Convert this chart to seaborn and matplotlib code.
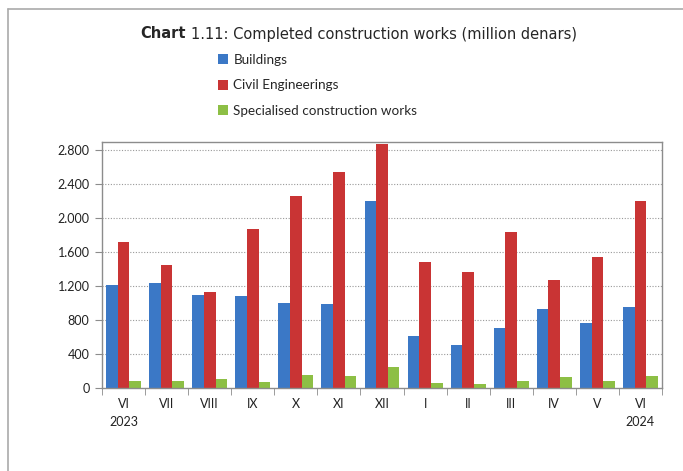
import numpy as np
import pandas as pd
import matplotlib
matplotlib.use("Agg")
import matplotlib.pyplot as plt
from matplotlib.lines import Line2D
from matplotlib.ticker import FuncFormatter, FixedLocator
import seaborn as sns

months = ["VI\n2023", "VII", "VIII", "IX", "X", "XI", "XII", "I", "II", "III", "IV", "V", "VI\n2024"]
series_names = ["Buildings", "Civil Engineerings", "Specialised construction works"]
buildings = [1214, 1241, 1096, 1081, 999, 987, 2201, 607, 501, 705, 928, 764, 952]
civil = [1719, 1445, 1135, 1868, 2256, 2545, 2870, 1488, 1363, 1837, 1273, 1543, 2201]
specialised = [78, 81, 110, 75, 156, 145, 247, 62, 50, 78, 129, 86, 141]
yticks = [0, 400, 800, 1200, 1600, 2000, 2400, 2800]
colors = ["#3B78C6", "#C93434", "#8DBF45"]

df = pd.DataFrame({
    "month": months * 3,
    "series": [series_names[0]] * 13 + [series_names[1]] * 13 + [series_names[2]] * 13,
    "value": buildings + civil + specialised,
})

sns.set_style("white")
plt.rcParams["font.family"] = ["Lato", "DejaVu Sans"]

fig = plt.figure(figsize=(6.83, 4.71), dpi=100)
ax = fig.add_axes([102 / 683, 1 - 388 / 471, (662 - 102) / 683, (388 - 142) / 471])

sns.barplot(data=df, x="month", y="value", hue="series", order=months,
            hue_order=series_names, palette=colors, saturation=1, width=0.81,
            gap=0, ax=ax, errorbar=None, linewidth=0)

ax.set_ylim(0, 2800 * 246 / 238)
ax.set_xlim(-0.5, 12.5)
ax.set_yticks(yticks)
ax.yaxis.set_major_formatter(FuncFormatter(lambda v, p: f"{int(v):,}".replace(",", ".")))
ax.set_xlabel("")
ax.set_ylabel("")

for yv in yticks[1:]:
    ax.axhline(yv, color="#999999", lw=0.8, ls=(0, (1, 1.5)), zorder=0)

for s in ax.spines.values():
    s.set_color("#8c8c8c")
    s.set_linewidth(1.0)

ax.tick_params(axis="y", which="major", direction="out", length=5, color="#8c8c8c",
               labelsize=9, pad=4, left=True, labelcolor="#222222")
ax.tick_params(axis="x", which="major", length=0, labelsize=9, pad=7, labelcolor="#222222")
ax.xaxis.set_minor_locator(FixedLocator(np.arange(-0.5, 13, 1.0)))
ax.tick_params(axis="x", which="minor", direction="out", length=5, color="#8c8c8c", bottom=True)
for lab in ax.get_xticklabels():
    lab.set_linespacing(1.6)

handles, labels = ax.get_legend_handles_labels()
if ax.get_legend() is not None:
    ax.get_legend().remove()
fig.legend(handles, labels, loc="upper left", bbox_to_anchor=(218 / 683, 1 - 54 / 471),
           frameon=False, fontsize=9.7, handlelength=0.75, handleheight=0.75,
           handletextpad=0.4, labelspacing=1.0, borderpad=0, borderaxespad=0)

# Title: bold "Chart" followed by regular text
t1 = fig.text(140 / 683, 1 - 34 / 471, "Chart", fontsize=10.5, fontweight="bold",
              family=["DejaVu Sans"], va="center", ha="left")
fig.canvas.draw()
bb = t1.get_window_extent()
x2 = (bb.x1 + 5) / fig.bbox.width
fig.text(x2, 1 - 34 / 471, "1.11: Completed construction works (million denars)",
         fontsize=10.5, family=["DejaVu Sans"], va="center", ha="left")

# outer frame lines (top and left)
fig.add_artist(Line2D([8 / 683, 8 / 683], [0, 1 - 9 / 471], color="#aaaaaa", lw=1.2,
                      transform=fig.transFigure))
fig.add_artist(Line2D([8 / 683, 1], [1 - 9 / 471, 1 - 9 / 471], color="#aaaaaa", lw=1.2,
                      transform=fig.transFigure))

fig.savefig("out.png", dpi=100)
